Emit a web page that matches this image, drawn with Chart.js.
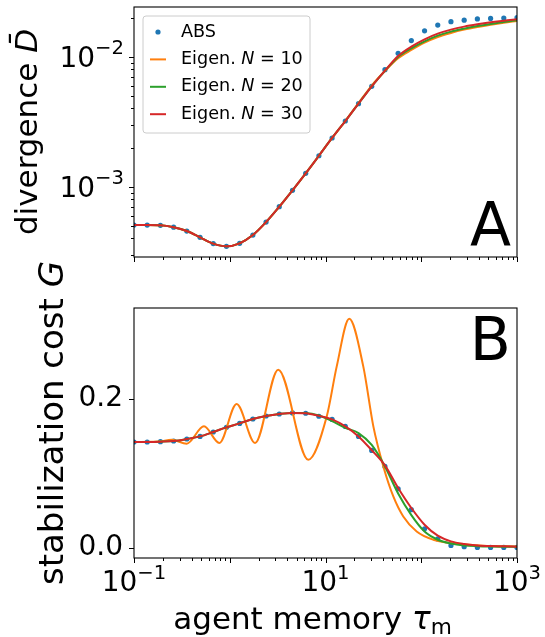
<!DOCTYPE html>
<html><head><meta charset="utf-8">
<script src="https://cdn.jsdelivr.net/npm/chart.js@4.4.0/dist/chart.umd.min.js"></script>
<style>
html,body{margin:0;padding:0;background:#fff;}
#c1{position:absolute;left:0;top:0;}
#c2{position:absolute;left:0;top:252px;}
</style></head><body>
<canvas id="c1" width="545" height="262"></canvas>
<canvas id="c2" width="545" height="385"></canvas>
<script>
// ---------- DATA ----------
const tau = [0.1, 0.13738, 0.18874, 0.25929, 0.35622, 0.48939, 0.67234, 0.92367, 1.2690, 1.7433,
  2.3950, 3.2903, 4.5204, 6.2102, 8.5317, 11.721, 16.103, 22.122, 30.392, 41.753,
  57.362, 78.805, 108.27, 148.73, 204.34, 280.72, 385.66, 529.83, 727.90, 1000];

const absDivergence = [5.07e-4, 5.07e-4, 5.05e-4, 4.88e-4, 4.56e-4, 4.08e-4, 3.65e-4, 3.48e-4, 3.67e-4, 4.25e-4,
  5.35e-4, 7.02e-4, 9.38e-4, 1.267e-3, 1.73e-3, 2.37e-3, 3.20e-3, 4.35e-3, 5.91e-3, 7.94e-3,
  1.062e-2, 1.33e-2, 1.58e-2, 1.75e-2, 1.86e-2, 1.91e-2, 1.95e-2, 1.97e-2, 1.98e-2, 1.995e-2];
const eig10Divergence = [5.07e-4, 5.07e-4, 5.05e-4, 4.88e-4, 4.56e-4, 4.08e-4, 3.65e-4, 3.48e-4, 3.67e-4, 4.25e-4,
  5.35e-4, 7.02e-4, 9.38e-4, 1.267e-3, 1.73e-3, 2.37e-3, 3.20e-3, 4.40e-3, 6.00e-3, 7.75e-3,
  9.72e-3, 1.126e-2, 1.282e-2, 1.417e-2, 1.522e-2, 1.614e-2, 1.692e-2, 1.763e-2, 1.827e-2, 1.882e-2];
const eig20Divergence = [5.07e-4, 5.07e-4, 5.05e-4, 4.88e-4, 4.56e-4, 4.08e-4, 3.65e-4, 3.48e-4, 3.67e-4, 4.25e-4,
  5.35e-4, 7.02e-4, 9.38e-4, 1.267e-3, 1.73e-3, 2.37e-3, 3.20e-3, 4.35e-3, 5.91e-3, 7.78e-3,
  9.95e-3, 1.160e-2, 1.313e-2, 1.451e-2, 1.558e-2, 1.643e-2, 1.722e-2, 1.784e-2, 1.849e-2, 1.905e-2];
const eig30Divergence = [5.07e-4, 5.07e-4, 5.05e-4, 4.88e-4, 4.56e-4, 4.08e-4, 3.65e-4, 3.48e-4, 3.67e-4, 4.25e-4,
  5.35e-4, 7.02e-4, 9.38e-4, 1.267e-3, 1.73e-3, 2.37e-3, 3.20e-3, 4.35e-3, 5.91e-3, 7.81e-3,
  1.012e-2, 1.195e-2, 1.360e-2, 1.503e-2, 1.614e-2, 1.702e-2, 1.774e-2, 1.838e-2, 1.893e-2, 1.939e-2];

const absCost = [0.142, 0.142, 0.1424, 0.1433, 0.146, 0.1495, 0.1554, 0.1616, 0.1669, 0.1728,
  0.1768, 0.1795, 0.1810, 0.1805, 0.1765, 0.1723, 0.1629, 0.1495, 0.1307, 0.1093,
  0.0794, 0.0513, 0.0258, 0.0121, 0.0035, 0.0017, 0.0008, 0.0008, 0.0008, 0.0008];
const eig30Cost = [0.142, 0.142, 0.1424, 0.1433, 0.146, 0.1495, 0.1554, 0.1616, 0.1669, 0.1728,
  0.1768, 0.1795, 0.1810, 0.1805, 0.1770, 0.1723, 0.1629, 0.1495, 0.1310, 0.1107,
  0.0804, 0.0536, 0.0312, 0.0165, 0.0089, 0.0054, 0.0035, 0.0026, 0.0022, 0.0017];
const eig20Cost = [0.142, 0.142, 0.1424, 0.1433, 0.146, 0.1495, 0.1554, 0.1616, 0.1669, 0.1728,
  0.1768, 0.1795, 0.1810, 0.1808, 0.1775, 0.1700, 0.1610, 0.1540, 0.1380, 0.1093,
  0.0730, 0.0440, 0.0220, 0.0110, 0.0060, 0.0035, 0.0025, 0.0020, 0.0018, 0.0017];
const eig10CostTau = [0.1, 0.18, 0.248, 0.355, 0.538, 0.778, 1.18, 1.84, 3.21, 6.61,
  10.3, 13.1, 17.7, 24.8, 31.6, 40.2, 51.1, 64.9, 89.6, 133.6, 199.5, 441, 1000];
const eig10Cost = [0.142, 0.1425, 0.145, 0.1397, 0.163, 0.1407, 0.193, 0.1407, 0.2389, 0.1183,
  0.1763, 0.2433, 0.307, 0.2433, 0.1629, 0.1093, 0.0691, 0.0423, 0.0222, 0.0111, 0.0067, 0.0031, 0.0021];

const seriesNames = ['ABS', 'Eigen. N = 10', 'Eigen. N = 20', 'Eigen. N = 30'];
const seriesColors = ['#1f77b4', '#ff7f0e', '#2ca02c', '#d62728'];
const xTickValues = [0.1, 10, 1000];
const xTickLabels = ['10^−1', '10^1', '10^3'];
const yTickValuesA = [1e-3, 1e-2];
const yTickLabelsA = ['10^−3', '10^−2'];
const yTickValuesB = [0, 0.2];
const yTickLabelsB = ['0.0', '0.2'];
const panelLetters = ['A', 'B'];
const yTitles = ['divergence ', 'stabilization cost '];
const xTitle = 'agent memory ';

// ---------- HELPERS ----------
const FONT = "'DejaVu Sans'";
const TICK = 28, LABEL = 31, LABEL_B = 34;
const pts = (xs, ys) => xs.map((x, i) => ({x, y: ys[i]}));

function logTickList(min, max) {
  const out = [];
  for (let d = Math.floor(Math.log10(min)); d <= Math.ceil(Math.log10(max)); d++) {
    for (let m = 1; m < 10; m++) {
      const v = m * Math.pow(10, d);
      if (v >= min * 0.9999 && v <= max * 1.0001) out.push({v, major: m === 1});
    }
  }
  return out;
}

function piecesWidth(ctx, pieces) {
  let w = 0;
  pieces.forEach(p => { ctx.font = p.font; w += ctx.measureText(p.t).width; });
  return w;
}
function drawPieces(ctx, pieces, x, y, align) {
  const w = piecesWidth(ctx, pieces);
  let cx = align === 'center' ? x - w / 2 : (align === 'right' ? x - w : x);
  ctx.textAlign = 'left';
  pieces.forEach(p => { ctx.font = p.font; ctx.fillText(p.t, cx, y - (p.up || 0)); cx += ctx.measureText(p.t).width; });
}
function powPieces(label) {
  const [b, e] = label.split('^');
  return [{t: b, font: `${TICK}px ${FONT}`}, {t: e, font: `${TICK * 0.7}px ${FONT}`, up: TICK * 0.44}];
}

const framePlugin = {
  id: 'frame',
  afterDraw(chart, args, o) {
    const {ctx, chartArea: a} = chart;
    const xs = chart.scales.x, ys = chart.scales.y;
    ctx.save();
    ctx.strokeStyle = '#000';
    ctx.lineWidth = 1.1;
    ctx.strokeRect(a.left, a.top, a.right - a.left, a.bottom - a.top);
    ctx.lineWidth = 1;
    logTickList(xs.min, xs.max).forEach(t => {
      const px = Math.round(xs.getPixelForValue(t.v)) + 0.5;
      ctx.beginPath(); ctx.moveTo(px, a.bottom); ctx.lineTo(px, a.bottom + (t.major ? 5 : 3)); ctx.stroke();
    });
    const yt = o.logY ? logTickList(ys.min, ys.max) : yTickValuesB.map(v => ({v, major: true}));
    yt.forEach(t => {
      const py = Math.round(ys.getPixelForValue(t.v)) + 0.5;
      ctx.beginPath(); ctx.moveTo(a.left, py); ctx.lineTo(a.left - (t.major ? 5 : 3), py); ctx.stroke();
    });
    ctx.fillStyle = '#000';
    ctx.textBaseline = 'alphabetic';
    if (o.logY) {
      yTickValuesA.forEach((v, i) => {
        drawPieces(ctx, powPieces(yTickLabelsA[i]), a.left - 10, ys.getPixelForValue(v) + 10, 'right');
      });
    }
    if (o.xLabels) {
      xTickValues.forEach((v, i) => {
        drawPieces(ctx, powPieces(xTickLabels[i]), xs.getPixelForValue(v), a.bottom + 33, 'center');
      });
    }
    ctx.font = `60px ${FONT}`;
    ctx.textAlign = 'right';
    ctx.fillText(o.letter, a.right - 6, a.top + o.letterBase);
    ctx.save();
    ctx.translate(o.yTitleX, (a.top + a.bottom) / 2 + o.yTitleShift);
    ctx.rotate(-Math.PI / 2);
    drawPieces(ctx, o.yPieces, 0, 0, 'center');
    ctx.restore();
    if (o.xPieces) {
      drawPieces(ctx, o.xPieces, (a.left + a.right) / 2 + o.xTitleShift, a.bottom + o.xTitleDy, 'center');
    }
    if (o.legend) {
      const L = o.legend;
      ctx.beginPath();
      const r = 3, x0 = L.x, y0 = L.y, w = L.w, h = L.h;
      ctx.moveTo(x0 + r, y0); ctx.arcTo(x0 + w, y0, x0 + w, y0 + h, r); ctx.arcTo(x0 + w, y0 + h, x0, y0 + h, r);
      ctx.arcTo(x0, y0 + h, x0, y0, r); ctx.arcTo(x0, y0, x0 + w, y0, r); ctx.closePath();
      ctx.fillStyle = 'rgba(255,255,255,0.8)'; ctx.fill();
      ctx.strokeStyle = '#cccccc'; ctx.lineWidth = 1; ctx.stroke();
      seriesNames.forEach((name, i) => {
        const cy = L.firstY + i * L.step;
        ctx.fillStyle = seriesColors[i]; ctx.strokeStyle = seriesColors[i];
        if (i === 0) {
          ctx.beginPath(); ctx.arc(L.handleX + 8, cy, 2.6, 0, Math.PI * 2); ctx.fill();
        } else {
          ctx.lineWidth = 2; ctx.beginPath(); ctx.moveTo(L.handleX, cy); ctx.lineTo(L.handleX + 16, cy); ctx.stroke();
        }
        ctx.fillStyle = '#000'; ctx.textBaseline = 'middle';
        const parts = name.split('N');
        const f = `${L.font}px ${FONT}`, fi = `italic ${L.font}px ${FONT}`;
        const pieces = parts.length > 1 ? [{t: parts[0], font: f}, {t: 'N', font: fi}, {t: parts[1], font: f}] : [{t: name, font: f}];
        drawPieces(ctx, pieces, L.textX, cy, 'left');
      });
    }
    ctx.restore();
  }
};

function commonDatasets(absY, e10, e20, e30) {
  return [
    {label: seriesNames[3], data: e30, borderColor: seriesColors[3], borderWidth: 2, pointRadius: 0, cubicInterpolationMode: 'monotone', order: 0},
    {label: seriesNames[2], data: e20, borderColor: seriesColors[2], borderWidth: 2, pointRadius: 0, cubicInterpolationMode: 'monotone', order: 1},
    {label: seriesNames[1], data: e10, borderColor: seriesColors[1], borderWidth: 2, pointRadius: 0, cubicInterpolationMode: 'monotone', order: 2},
    {label: seriesNames[0], data: absY, showLine: false, pointRadius: 2.6, pointBackgroundColor: seriesColors[0], pointBorderWidth: 0, borderColor: seriesColors[0], order: 3}
  ];
}

const tickFont = {family: 'DejaVu Sans', size: TICK};
const noPad = s => { s.paddingLeft = 0; s.paddingRight = 0; s.paddingTop = 0; s.paddingBottom = 0; };

// ---------- PANEL A ----------
new Chart(document.getElementById('c1'), {
  type: 'line',
  data: {datasets: commonDatasets(pts(tau, absDivergence), pts(tau, eig10Divergence), pts(tau, eig20Divergence), pts(tau, eig30Divergence))},
  options: {
    responsive: false, animation: false, devicePixelRatio: 1,
    layout: {padding: {left: 0, right: 28, top: 7, bottom: 0}},
    plugins: {legend: {display: false}, tooltip: {enabled: false},
      frame: {logY: true, letter: panelLetters[0], letterBase: 238,
        yTitleX: 37, yTitleShift: 0,
        yPieces: [{t: yTitles[0], font: `${LABEL}px ${FONT}`}, {t: 'D\u0304', font: `italic ${LABEL}px ${FONT}`}],
        legend: {x: 143, y: 16, w: 167, h: 117, firstY: 32, step: 27.4, handleX: 150, textX: 181, font: 17.6}}},
    scales: {
      x: {type: 'logarithmic', min: 0.1, max: 1000, ticks: {display: false}, grid: {display: false, drawTicks: false}, border: {display: false},
        afterFit: s => { s.height = 5; noPad(s); }},
      y: {type: 'logarithmic', min: 2.88e-4, max: 2.41e-2,
        afterBuildTicks: s => { s.ticks = yTickValuesA.map(v => ({value: v})); },
        ticks: {display: false},
        grid: {display: false, drawTicks: false}, border: {display: false},
        afterFit: s => { s.width = 134; noPad(s); }}
    }
  },
  plugins: [framePlugin]
});

// ---------- PANEL B ----------
new Chart(document.getElementById('c2'), {
  type: 'line',
  data: {datasets: commonDatasets(pts(tau, absCost), pts(eig10CostTau, eig10Cost), pts(tau, eig20Cost), pts(tau, eig30Cost))},
  options: {
    responsive: false, animation: false, devicePixelRatio: 1,
    layout: {padding: {left: 0, right: 28, top: 56, bottom: 0}},
    plugins: {legend: {display: false}, tooltip: {enabled: false},
      frame: {logY: false, xLabels: true, letter: panelLetters[1], letterBase: 52,
        yTitleX: 63, yTitleShift: -10,
        yPieces: [{t: yTitles[1], font: `${LABEL_B}px ${FONT}`}, {t: 'G', font: `italic ${LABEL_B}px ${FONT}`}],
        xTitleDy: 71, xTitleShift: -13,
        xPieces: [{t: xTitle, font: `${LABEL}px ${FONT}`}, {t: '\u03C4', font: `italic ${LABEL}px ${FONT}`}, {t: 'm', font: `${LABEL * 0.7}px ${FONT}`, up: -5}]}},
    scales: {
      x: {type: 'logarithmic', min: 0.1, max: 1000,
        afterBuildTicks: s => { s.ticks = xTickValues.map(v => ({value: v})); },
        ticks: {display: false},
        grid: {display: false, drawTicks: false}, border: {display: false},
        afterFit: s => { s.height = 79; noPad(s); }},
      y: {type: 'linear', min: -0.0134, max: 0.3215,
        afterBuildTicks: s => { s.ticks = yTickValuesB.map(v => ({value: v})); },
        ticks: {font: tickFont, color: '#000', padding: 11, autoSkip: false, callback: (v, i) => yTickLabelsB[i]},
        grid: {display: false, drawTicks: false}, border: {display: false},
        afterFit: s => { s.width = 134; noPad(s); }}
    }
  },
  plugins: [framePlugin]
});
</script>
</body></html>
